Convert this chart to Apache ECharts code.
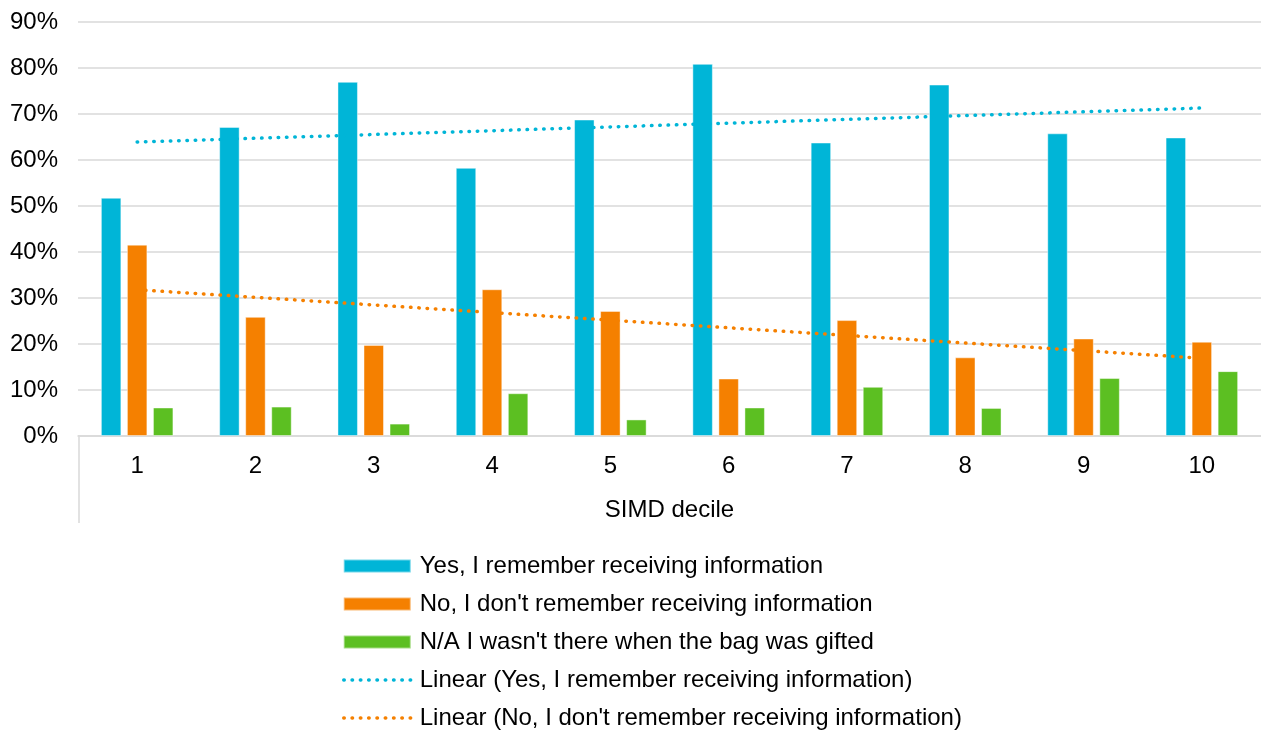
<!DOCTYPE html>
<html>
<head>
<meta charset="utf-8">
<title>SIMD decile</title>
<script src="https://cdn.jsdelivr.net/npm/echarts@6/dist/echarts.min.js"></script>
<style>
    html, body { margin: 0; padding: 0; background: #fff; }
    #chart { width: 1261px; height: 731px; }
</style>
</head>
<body>
<div id="chart"></div>
<script>
// data (percent)
const deciles = ['1', '2', '3', '4', '5', '6', '7', '8', '9', '10']
const yesValues = [51.8, 67.2, 77.0, 58.3, 68.8, 80.9, 63.8, 76.4, 65.8, 64.9]
const noValues = [41.6, 25.9, 19.8, 31.9, 27.2, 12.5, 25.2, 17.1, 21.2, 20.5]
const naValues = [6.2, 6.4, 2.7, 9.3, 3.6, 6.2, 10.7, 6.1, 12.6, 14.1]
// trendline end points at decile 1 and decile 10
const yesTrend = [63.9, null, null, null, null, null, null, null, null, 71.3]
const noTrend = [31.8, null, null, null, null, null, null, null, null, 16.9]
const yTicks = [0, 10, 20, 30, 40, 50, 60, 70, 80, 90]

const names = [
    'Yes, I remember receiving information',
    "No, I don't remember receiving information",
    "N/A I wasn't there when the bag was gifted",
    'Linear (Yes, I remember receiving information)',
    "Linear (No, I don't remember receiving information)"
]
const cyan = '#00B5D7'
const orange = '#F58000'
const green = '#5CBF22'
const font = 'Liberation Sans, Arial, sans-serif'
const dots = { width: 3.5, type: [0.5, 7.8], cap: 'round' }

const chart = echarts.init(document.getElementById('chart'))

const barSeries = (name, data, color) => ({
    name: name,
    type: 'bar',
    data: data,
    barWidth: 20.5,
    barGap: '27%',
    itemStyle: {
        color: color,
        borderColor: 'rgba(255,255,255,0.45)',
        borderWidth: 1
    },
    z: 2
})

const trendSeries = (name, data, color) => ({
    name: name,
    type: 'line',
    data: data,
    connectNulls: true,
    symbol: 'none',
    silent: true,
    itemStyle: { color: color },
    lineStyle: Object.assign({ color: color }, dots),
    z: 5
})

const legendData = names.map((n, i) => i < 3
    ? { name: n, icon: 'rect' }
    : { name: n, itemStyle: { opacity: 0 }, lineStyle: Object.assign({}, dots) })

chart.setOption({
    animation: false,
    textStyle: { fontFamily: font },
    grid: {
        left: 78,
        right: 0,
        top: 22,
        bottom: 295
    },
    legend: {
        orient: 'vertical',
        left: 342,
        top: 554,
        padding: 0,
        itemWidth: 67,
        itemHeight: 13,
        itemGap: 14,
        data: legendData,
        textStyle: {
            fontFamily: font,
            fontSize: 24,
            lineHeight: 24,
            color: '#000',
            padding: [0, 0, 0, 4]
        }
    },
    xAxis: {
        type: 'category',
        data: deciles,
        name: 'SIMD decile',
        nameLocation: 'middle',
        nameGap: 62,
        nameTextStyle: { fontFamily: font, fontSize: 24, color: '#000' },
        axisLine: { lineStyle: { color: '#D9D9D9', width: 1.5 } },
        axisTick: { show: false },
        axisLabel: { fontFamily: font, fontSize: 24, color: '#000', margin: 18 }
    },
    yAxis: {
        type: 'value',
        min: yTicks[0],
        max: yTicks[yTicks.length - 1],
        interval: 10,
        axisLine: { show: false },
        axisTick: { show: false },
        axisLabel: {
            fontFamily: font,
            fontSize: 24,
            color: '#000',
            margin: 20,
            formatter: '{value}%'
        },
        splitLine: { lineStyle: { color: '#D9D9D9', width: 1.5 } }
    },
    graphic: [
        {
            type: 'line',
            shape: { x1: 79, y1: 437, x2: 79, y2: 523 },
            style: { stroke: '#D9D9D9', lineWidth: 1.5 }
        }
    ],
    series: [
        barSeries(names[0], yesValues, cyan),
        barSeries(names[1], noValues, orange),
        barSeries(names[2], naValues, green),
        trendSeries(names[3], yesTrend, cyan),
        trendSeries(names[4], noTrend, orange)
    ]
})
</script>
</body>
</html>
